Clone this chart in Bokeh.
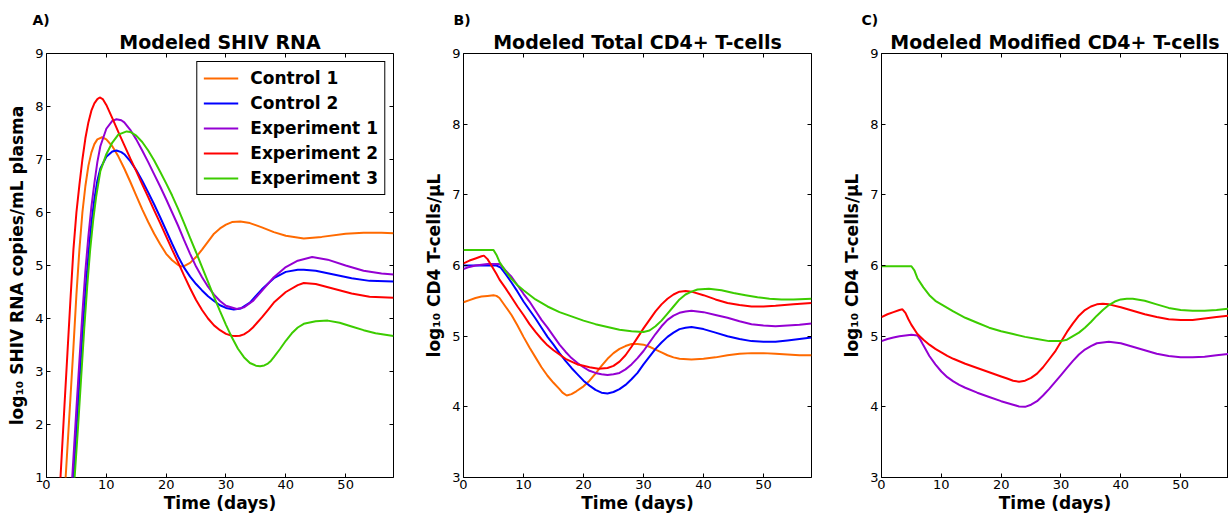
from bokeh.plotting import figure
from bokeh.models import Range1d, FixedTicker, LinearAxis, Title, CustomLabelingPolicy
from bokeh.layouts import row
from bokeh.embed import file_html
from bokeh.resources import INLINE

FONT = "DejaVu Sans"

# ---------------- Panel A: Modeled SHIV RNA (log10 copies/mL) ----------------
a_t_control1 = [2.8, 3.2, 4, 4.5, 5, 5.5, 6, 6.5, 7, 7.5, 8, 8.5, 9.3, 10, 11, 12, 13, 14, 15, 16, 17, 18, 19, 20, 21, 22, 22.5, 23, 24, 25, 26, 27, 28, 29, 30, 31, 32.4, 34, 36, 38, 40, 43, 46, 50, 53, 56, 58]
a_v_control1 = [0.25, 1.0, 2.5, 3.45, 4.45, 5.3, 6.0, 6.5, 6.88, 7.13, 7.29, 7.38, 7.42, 7.38, 7.25, 7.06, 6.83, 6.58, 6.32, 6.06, 5.82, 5.6, 5.4, 5.22, 5.1, 5.01, 4.98, 4.99, 5.05, 5.16, 5.3, 5.45, 5.6, 5.7, 5.77, 5.82, 5.83, 5.8, 5.72, 5.63, 5.56, 5.51, 5.54, 5.6, 5.62, 5.62, 5.61]

a_t_control2 = [4.1, 4.5, 5, 5.5, 6, 6.5, 7, 7.5, 8, 8.5, 9, 10, 11, 11.7, 12.5, 13, 14, 15, 16, 17, 18, 19, 20, 21, 22, 23, 24, 25, 26, 27, 28, 29, 30, 31.3, 32.5, 34, 36, 38, 40, 42, 43, 45, 48, 51, 54, 58]
a_v_control2 = [0.25, 1.0, 1.9, 2.8, 3.7, 4.5, 5.2, 5.8, 6.25, 6.6, 6.83, 7.05, 7.15, 7.17, 7.14, 7.1, 6.97, 6.8, 6.6, 6.38, 6.15, 5.91, 5.66, 5.41, 5.17, 4.96, 4.79, 4.65, 4.53, 4.42, 4.33, 4.25, 4.2, 4.17, 4.19, 4.3, 4.55, 4.76, 4.88, 4.92, 4.92, 4.9, 4.83, 4.76, 4.71, 4.70]

a_t_exp1 = [3.9, 4.3, 5, 5.5, 6, 6.5, 7, 7.5, 8, 8.5, 9, 10, 11, 11.7, 12.5, 13, 14, 15, 16, 17, 18, 19, 20, 21, 22, 23, 24, 25, 26, 27, 28, 29, 30, 31.8, 33, 34.5, 36, 38, 40, 42, 44.4, 47, 50, 53, 56, 58]
a_v_exp1 = [0.25, 1.0, 2.3, 3.2, 4.1, 4.9, 5.55, 6.1, 6.55, 6.95, 7.25, 7.58, 7.73, 7.76, 7.74, 7.7, 7.56, 7.38, 7.17, 6.95, 6.72, 6.49, 6.25, 6.0, 5.75, 5.48, 5.22, 4.98, 4.78, 4.6, 4.45, 4.33, 4.24, 4.18, 4.21, 4.33, 4.52, 4.78, 4.97, 5.09, 5.16, 5.11, 5.0, 4.9, 4.85, 4.83]

a_t_exp2 = [2.0, 2.34, 3, 3.5, 4, 4.5, 5, 5.5, 6, 6.5, 7, 7.5, 8, 8.5, 8.9, 9.4, 10, 11, 12, 13, 14, 15, 16, 17, 18, 19, 20, 21, 22, 23, 24, 25, 26, 27, 28, 29, 30, 31, 31.6, 32.3, 33, 33.8, 34.5, 35.2, 36, 37, 38, 40, 42, 43, 45, 48, 51, 54, 58]
a_v_exp2 = [0.3, 1.0, 2.35, 3.35, 4.35, 5.3, 6.0, 6.52, 7.0, 7.4, 7.7, 7.92, 8.06, 8.14, 8.17, 8.14, 8.03, 7.78, 7.52, 7.27, 7.02, 6.78, 6.53, 6.29, 6.04, 5.8, 5.55, 5.3, 5.06, 4.81, 4.57, 4.35, 4.16, 4.0, 3.87, 3.78, 3.71, 3.675, 3.67, 3.675, 3.7, 3.76, 3.83, 3.92, 4.02, 4.16, 4.3, 4.5, 4.63, 4.67, 4.65, 4.56, 4.47, 4.41, 4.39]

a_t_exp3 = [4.3, 4.7, 5.3, 5.8, 6.3, 6.8, 7.3, 7.8, 8.3, 9, 10, 11, 12, 13.4, 14, 15, 16, 17, 18, 19, 20, 21, 22, 23, 24, 25, 26, 27, 28, 29, 30, 31, 32, 33, 34, 35, 35.7, 36.4, 37, 37.5, 38, 39, 40, 41, 42, 43, 45, 47, 49, 51, 53, 55, 58]
a_v_exp3 = [0.25, 1.0, 2.0, 2.9, 3.8, 4.6, 5.3, 5.85, 6.3, 6.78, 7.1, 7.32, 7.47, 7.53, 7.52, 7.45, 7.33, 7.17, 6.98, 6.77, 6.55, 6.32, 6.07, 5.8, 5.52, 5.25, 4.97, 4.69, 4.41, 4.14, 3.88, 3.64, 3.43, 3.27, 3.16, 3.11, 3.10, 3.115, 3.15, 3.2, 3.27, 3.42, 3.58, 3.72, 3.83, 3.9, 3.95, 3.96, 3.92, 3.85, 3.78, 3.72, 3.67]

# ---------------- Panel B: Modeled Total CD4+ T-cells ----------------
b_t_control1 = [0, 1, 2, 3, 4, 5, 5.5, 6, 6.5, 7, 8, 9, 10, 11, 12, 13, 14, 15, 16, 16.5, 17.2, 18, 18.8, 20, 21, 22, 23, 24, 25, 26, 27, 28, 29, 30, 31, 32, 33, 34, 35, 36, 38, 40, 42, 44, 46, 48, 50, 52, 54, 56, 58]
b_v_control1 = [5.48, 5.51, 5.54, 5.56, 5.57, 5.58, 5.57, 5.54, 5.48, 5.42, 5.3, 5.15, 4.99, 4.84, 4.7, 4.56, 4.44, 4.34, 4.25, 4.2, 4.16, 4.18, 4.22, 4.29, 4.37, 4.47, 4.58, 4.68, 4.76, 4.82, 4.86, 4.89, 4.89, 4.88, 4.85, 4.81, 4.77, 4.73, 4.7, 4.68, 4.67, 4.68, 4.7, 4.73, 4.75, 4.76, 4.76, 4.75, 4.74, 4.73, 4.73]

b_t_control2 = [0, 2, 4, 5.5, 6.2, 7, 8, 9, 10, 11, 12, 13, 14, 15, 16, 17, 18, 19, 20, 21, 22, 23, 24, 25, 26, 27, 28, 29, 30, 31, 32, 33, 34, 35, 36, 37, 38, 40, 42, 44, 46, 48, 50, 52, 54, 56, 58]
b_v_control2 = [6.0, 6.0, 6.0, 6.0, 5.97, 5.88, 5.76, 5.63, 5.49, 5.37, 5.25, 5.12, 4.99, 4.88, 4.76, 4.65, 4.55, 4.46, 4.37, 4.3, 4.24, 4.2, 4.19, 4.21, 4.25, 4.31, 4.39, 4.48, 4.6, 4.71, 4.82, 4.91, 4.99, 5.05, 5.1, 5.12, 5.13, 5.1, 5.05, 5.0, 4.96, 4.93, 4.92, 4.92, 4.94, 4.96, 4.98]

b_t_exp1 = [0, 1, 2, 3, 4, 5, 6, 6.5, 7, 8, 9, 10, 11, 12, 13, 14, 15, 16, 17, 18, 19, 20, 21, 22, 23, 24, 25, 26, 27, 28, 29, 30, 31, 32, 33, 34, 35, 36, 37, 38, 40, 42, 44, 46, 48, 50, 52, 54, 56, 58]
b_v_exp1 = [5.95, 5.98, 6.0, 6.01, 6.02, 6.02, 6.02, 5.98, 5.93, 5.84, 5.72, 5.6, 5.49, 5.36, 5.23, 5.12, 5.0, 4.88, 4.78, 4.69, 4.62, 4.56, 4.51, 4.48, 4.46, 4.45, 4.46, 4.48, 4.53, 4.6, 4.69, 4.79, 4.91, 5.03, 5.14, 5.23, 5.29, 5.33, 5.35, 5.36, 5.34, 5.3, 5.26, 5.21, 5.17, 5.15, 5.14, 5.15, 5.16, 5.18]

b_t_exp2 = [0, 1, 2, 3, 3.4, 4, 4.5, 5, 5.5, 6, 7, 8, 9, 10, 11, 12, 13, 14, 15, 16, 17, 18, 19, 20, 21, 22.5, 24, 25, 26, 27, 28, 29, 30, 31, 32, 33, 34, 35, 36, 37, 38, 40, 42, 44, 46, 48, 50, 52, 55, 58]
b_v_exp2 = [6.03, 6.07, 6.1, 6.13, 6.14, 6.09, 6.02, 5.95, 5.88, 5.8, 5.68, 5.55, 5.42, 5.3, 5.17, 5.06, 4.96, 4.87, 4.8, 4.74, 4.68, 4.64, 4.6, 4.58, 4.56, 4.54, 4.55, 4.58, 4.64, 4.73, 4.85, 4.98, 5.11, 5.23, 5.35, 5.45, 5.53, 5.59, 5.63, 5.64, 5.63, 5.58, 5.52, 5.47, 5.44, 5.42, 5.42, 5.43, 5.45, 5.47]

b_t_exp3 = [0, 2, 4, 5, 5.5, 6, 7, 8, 9, 10, 12, 14, 16, 18, 20, 22, 24, 26, 28, 30, 31, 32, 33, 34, 35, 36, 37, 38, 39, 40.9, 43, 45, 47, 49, 51, 53, 55, 58]
b_v_exp3 = [6.22, 6.22, 6.22, 6.22, 6.15, 6.05, 5.92, 5.81, 5.72, 5.65, 5.52, 5.42, 5.34, 5.28, 5.22, 5.17, 5.13, 5.09, 5.07, 5.06, 5.08, 5.14, 5.22, 5.32, 5.42, 5.52, 5.59, 5.63, 5.66, 5.67, 5.65, 5.61, 5.58, 5.55, 5.53, 5.52, 5.52, 5.53]

# ---------------- Panel C: Modeled Modified CD4+ T-cells ----------------
c_t_exp1 = [0, 1, 2, 3, 4, 5, 6, 6.5, 7, 8, 9, 10, 11, 12, 13, 14, 16, 18, 20, 22, 23, 24, 25, 26, 27, 28, 29, 30, 31, 32, 33, 34, 35, 36, 38, 40, 42, 44, 46, 48, 50, 52, 54, 56, 58]
c_v_exp1 = [4.93, 4.96, 4.98, 5.0, 5.01, 5.02, 5.01, 4.95, 4.87, 4.72, 4.6, 4.5, 4.42, 4.36, 4.31, 4.27, 4.2, 4.14, 4.08, 4.03, 4.005, 4.0, 4.03, 4.08, 4.16, 4.25, 4.35, 4.45, 4.55, 4.65, 4.74, 4.81, 4.86, 4.9, 4.92, 4.9, 4.85, 4.8, 4.75, 4.72, 4.7, 4.7, 4.71, 4.73, 4.75]

c_t_exp2 = [0, 1, 2, 3, 3.5, 4, 4.5, 5, 6, 7, 8, 9, 10, 11, 12, 14, 16, 18, 20, 21, 22, 23, 24, 25, 26, 27, 28, 29, 30, 31, 32, 33, 34, 35, 36, 37, 38, 40, 42, 44, 46, 48, 50, 52, 54, 56, 58]
c_v_exp2 = [5.27, 5.31, 5.34, 5.37, 5.38, 5.33, 5.24, 5.16, 5.03, 4.95, 4.88, 4.82, 4.77, 4.72, 4.68, 4.61, 4.55, 4.49, 4.43, 4.4, 4.37, 4.355, 4.37, 4.41, 4.47, 4.56, 4.67, 4.78, 4.92, 5.06, 5.18, 5.29, 5.37, 5.42, 5.45, 5.46, 5.45, 5.41, 5.36, 5.31, 5.27, 5.24, 5.23, 5.23, 5.25, 5.27, 5.29]

c_t_exp3 = [0, 2, 4, 5, 5.5, 6, 7, 8, 9, 10, 11, 12, 14, 16, 18, 20, 22, 24, 26, 28, 29, 30, 31, 32, 33, 34, 35, 36, 37, 38, 39, 40, 41, 42, 44, 46, 48, 50, 52, 54, 56, 58]
c_v_exp3 = [5.99, 5.99, 5.99, 5.99, 5.93, 5.82, 5.69, 5.58, 5.5, 5.45, 5.4, 5.35, 5.26, 5.19, 5.12, 5.07, 5.03, 4.99, 4.96, 4.93, 4.93, 4.93, 4.95, 5.0, 5.05, 5.12, 5.2, 5.29, 5.37, 5.44, 5.49, 5.52, 5.53, 5.53, 5.5, 5.45, 5.4, 5.37, 5.36, 5.36, 5.37, 5.39]

# ---------------- labels / ticks ----------------
series_names = ["Control 1", "Control 2", "Experiment 1", "Experiment 2", "Experiment 3"]
series_colors = ["#ff6a00", "#0000ff", "#9400d3", "#ff0000", "#3ccc00"]
x_ticks = [0, 10, 20, 30, 40, 50]
a_y_ticks = [1, 2, 3, 4, 5, 6, 7, 8, 9]
cd4_y_ticks = [3, 4, 5, 6, 7, 8, 9]
titles = ["Modeled SHIV RNA", "Modeled Total CD4+ T-cells", "Modeled Modified CD4+ T-cells"]
tags = ["A)", "B)", "C)"]
x_label = "Time (days)"
a_y_label = "log\u2081\u2080 SHIV RNA copies/mL plasma"
cd4_y_label = "log\u2081\u2080 CD4 T-cells/\u03bcL"

H = 515
HIDE_ALL = "const all = [...indices]; for (const i of all) indices.unset(i);"


def mirror_axis(ticks):
    return LinearAxis(ticker=FixedTicker(ticks=ticks), major_label_text_font_size="0px",
                      major_label_policy=CustomLabelingPolicy(code=HIDE_ALL),
                      major_tick_in=4, major_tick_out=0, minor_tick_line_color=None,
                      axis_line_color=None, major_label_standoff=0, major_tick_line_color="black")


def make_fig(width, lb, rb, yr, yticks, title, tag, tag_offset, ylabel):
    p = figure(width=width, height=H, x_range=Range1d(0, 58), y_range=Range1d(*yr),
               output_backend="svg", toolbar_location=None,
               min_border_left=lb, min_border_right=rb, min_border_top=53, min_border_bottom=38)
    p.xgrid.visible = False
    p.ygrid.visible = False
    p.outline_line_color = "black"
    p.outline_line_width = 1
    p.outline_line_alpha = 1
    p.background_fill_color = "white"
    p.border_fill_color = "white"

    xa = p.xaxis[0]
    ya = p.yaxis[0]
    xa.ticker = FixedTicker(ticks=x_ticks)
    ya.ticker = FixedTicker(ticks=yticks)
    xa.axis_label = x_label
    ya.axis_label = ylabel
    for ax in (xa, ya):
        ax.major_tick_in = 4
        ax.major_tick_out = 0
        ax.minor_tick_line_color = None
        ax.axis_line_color = None
        ax.major_tick_line_color = "black"
        ax.major_label_text_font = FONT
        ax.major_label_text_font_size = "13px"
        ax.major_label_text_color = "black"
        ax.axis_label_text_font = FONT
        ax.axis_label_text_font_size = "17px"
        ax.axis_label_text_font_style = "bold"
        ax.axis_label_text_color = "black"
    xa.major_label_standoff = 2
    xa.axis_label_standoff = 1
    ya.major_label_standoff = 3
    ya.axis_label_standoff = 5

    p.add_layout(mirror_axis(x_ticks), "above")
    p.add_layout(mirror_axis(yticks), "right")
    p.add_layout(Title(text=title, align="center", text_font=FONT, text_font_size="19px",
                       text_font_style="bold", text_color="black", standoff=2), "above")
    p.add_layout(Title(text=tag, align="left", offset=tag_offset, text_font=FONT, text_font_size="14px",
                       text_font_style="bold", text_color="black", standoff=0), "above")
    return p


pA = make_fig(403, 46, 10, (1, 9), a_y_ticks, titles[0], tags[0], -14, a_y_label)
pB = make_fig(418, 60, 10, (3, 9), cd4_y_ticks, titles[1], tags[1], -10, cd4_y_label)
pC = make_fig(407, 60, 0, (3, 9), cd4_y_ticks, titles[2], tags[2], -20, cd4_y_label)

a_data = [(a_t_control1, a_v_control1), (a_t_control2, a_v_control2), (a_t_exp1, a_v_exp1),
          (a_t_exp2, a_v_exp2), (a_t_exp3, a_v_exp3)]
for (t, v), name, col in zip(a_data, series_names, series_colors):
    pA.line(t, v, line_color=col, line_width=2, legend_label=name)

b_data = [(b_t_control1, b_v_control1), (b_t_control2, b_v_control2), (b_t_exp1, b_v_exp1),
          (b_t_exp2, b_v_exp2), (b_t_exp3, b_v_exp3)]
for (t, v), col in zip(b_data, series_colors):
    pB.line(t, v, line_color=col, line_width=2)

c_data = [(c_t_exp1, c_v_exp1), (c_t_exp2, c_v_exp2), (c_t_exp3, c_v_exp3)]
for (t, v), col in zip(c_data, series_colors[2:]):
    pC.line(t, v, line_color=col, line_width=2)

lg = pA.legend[0]
lg.location = "top_right"
lg.margin = 8
lg.padding = 6
lg.spacing = 5
lg.glyph_width = 35
lg.glyph_height = 20
lg.label_height = 20
lg.label_standoff = 12
lg.label_text_font = FONT
lg.label_text_font_size = "17px"
lg.label_text_font_style = "bold"
lg.label_text_color = "black"
lg.border_line_color = "black"
lg.border_line_width = 1
lg.border_line_alpha = 1
lg.background_fill_alpha = 1

layout = row(pA, pB, pC)
open("out.html", "w").write(file_html(layout, INLINE, "Modeled SHIV"))
